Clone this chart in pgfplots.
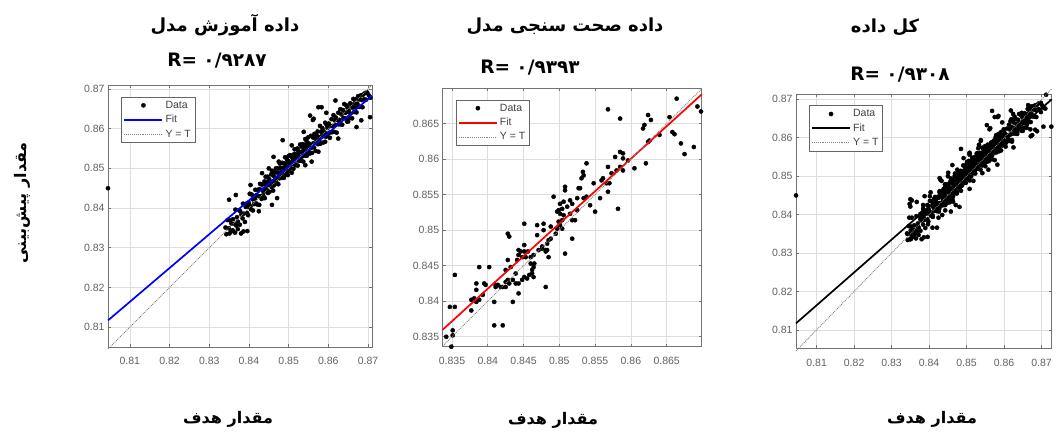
\documentclass[border=0pt]{standalone}
\usepackage{pgfplots}
\pgfplotsset{compat=1.18}
\usepackage{pgfplotstable}
\usepackage{fontspec}
\setmainfont{Liberation Sans}
\newfontfamily\arabicfont[Script=Arabic]{DejaVu Sans}
\TeXXeTstate=1

\pgfplotstableread{
x y
0.8045 0.8450
0.8341 0.8351
0.8343 0.8334
0.8346 0.8370
0.8349 0.8349
0.8350 0.8421
0.8351 0.8336
0.8352 0.8369
0.8355 0.8341
0.8356 0.8361
0.8359 0.8344
0.8360 0.8372
0.8363 0.8360
0.8365 0.8338
0.8366 0.8396
0.8367 0.8433
0.8368 0.8356
0.8370 0.8377
0.8372 0.8366
0.8372 0.8347
0.8375 0.8395
0.8377 0.8358
0.8378 0.8392
0.8380 0.8336
0.8381 0.8384
0.8384 0.8374
0.8385 0.8411
0.8386 0.8341
0.8387 0.8386
0.8390 0.8365
0.8392 0.8403
0.8393 0.8411
0.8395 0.8388
0.8396 0.8342
0.8397 0.8403
0.8398 0.8382
0.8399 0.8414
0.8401 0.8408
0.8402 0.8436
0.8404 0.8405
0.8404 0.8458
0.8405 0.8397
0.8407 0.8434
0.8409 0.8422
0.8410 0.8394
0.8411 0.8429
0.8413 0.8410
0.8415 0.8424
0.8416 0.8446
0.8418 0.8412
0.8419 0.8433
0.8421 0.8409
0.8422 0.8446
0.8424 0.8430
0.8425 0.8392
0.8426 0.8408
0.8427 0.8448
0.8428 0.8461
0.8430 0.8430
0.8432 0.8423
0.8433 0.8459
0.8433 0.8488
0.8435 0.8446
0.8436 0.8432
0.8437 0.8440
0.8439 0.8467
0.8440 0.8425
0.8442 0.8459
0.8442 0.8479
0.8443 0.8448
0.8444 0.8466
0.8446 0.8445
0.8447 0.8479
0.8448 0.8438
0.8449 0.8464
0.8450 0.8458
0.8450 0.8500
0.8451 0.8473
0.8452 0.8441
0.8453 0.8467
0.8455 0.8457
0.8456 0.8485
0.8457 0.8453
0.8458 0.8494
0.8458 0.8408
0.8460 0.8467
0.8461 0.8444
0.8462 0.8481
0.8462 0.8529
0.8463 0.8457
0.8465 0.8490
0.8466 0.8477
0.8467 0.8467
0.8468 0.8500
0.8469 0.8474
0.8471 0.8462
0.8471 0.8425
0.8472 0.8489
0.8473 0.8500
0.8474 0.8460
0.8475 0.8517
0.8476 0.8489
0.8477 0.8475
0.8478 0.8512
0.8479 0.8483
0.8480 0.8501
0.8482 0.8491
0.8483 0.8476
0.8484 0.8514
0.8485 0.8486
0.8485 0.8571
0.8487 0.8502
0.8488 0.8476
0.8489 0.8513
0.8490 0.8496
0.8491 0.8528
0.8492 0.8489
0.8493 0.8511
0.8494 0.8484
0.8495 0.8507
0.8496 0.8522
0.8497 0.8500
0.8498 0.8483
0.8499 0.8519
0.8500 0.8531
0.8500 0.8499
0.8499 0.8507
0.8501 0.8493
0.8502 0.8515
0.8503 0.8533
0.8504 0.8502
0.8505 0.8510
0.8507 0.8532
0.8508 0.8489
0.8508 0.8558
0.8509 0.8527
0.8510 0.8511
0.8511 0.8519
0.8512 0.8499
0.8514 0.8536
0.8515 0.8548
0.8516 0.8511
0.8517 0.8528
0.8518 0.8508
0.8519 0.8535
0.8520 0.8523
0.8522 0.8550
0.8523 0.8507
0.8524 0.8544
0.8525 0.8531
0.8526 0.8519
0.8527 0.8541
0.8529 0.8560
0.8530 0.8529
0.8531 0.8519
0.8532 0.8555
0.8533 0.8542
0.8534 0.8530
0.8535 0.8561
0.8537 0.8517
0.8538 0.8592
0.8538 0.8550
0.8539 0.8541
0.8540 0.8559
0.8541 0.8532
0.8542 0.8574
0.8542 0.8508
0.8543 0.8540
0.8544 0.8551
0.8545 0.8569
0.8546 0.8532
0.8547 0.8562
0.8548 0.8552
0.8549 0.8578
0.8550 0.8544
0.8551 0.8563
0.8553 0.8537
0.8554 0.8633
0.8554 0.8559
0.8556 0.8582
0.8557 0.8552
0.8558 0.8517
0.8559 0.8539
0.8561 0.8578
0.8561 0.8622
0.8562 0.8563
0.8563 0.8625
0.8564 0.8553
0.8565 0.8587
0.8567 0.8575
0.8568 0.8544
0.8570 0.8584
0.8571 0.8568
0.8573 0.8593
0.8574 0.8561
0.8575 0.8654
0.8575 0.8542
0.8576 0.8579
0.8577 0.8570
0.8579 0.8607
0.8580 0.8562
0.8582 0.8592
0.8583 0.8654
0.8584 0.8583
0.8585 0.8601
0.8587 0.8565
0.8588 0.8594
0.8590 0.8581
0.8592 0.8615
0.8592 0.8567
0.8593 0.8589
0.8595 0.8580
0.8595 0.8640
0.8596 0.8609
0.8598 0.8602
0.8599 0.8587
0.8601 0.8613
0.8603 0.8590
0.8604 0.8577
0.8606 0.8607
0.8608 0.8624
0.8609 0.8591
0.8611 0.8607
0.8613 0.8634
0.8614 0.8592
0.8616 0.8621
0.8618 0.8609
0.8618 0.8671
0.8619 0.8628
0.8621 0.8590
0.8623 0.8622
0.8625 0.8640
0.8625 0.8575
0.8626 0.8611
0.8628 0.8622
0.8630 0.8649
0.8631 0.8611
0.8633 0.8636
0.8635 0.8610
0.8637 0.8647
0.8638 0.8627
0.8640 0.8662
0.8642 0.8626
0.8643 0.8640
0.8645 0.8659
0.8647 0.8618
0.8648 0.8654
0.8650 0.8642
0.8650 0.8618
0.8651 0.8646
0.8653 0.8626
0.8655 0.8664
0.8656 0.8638
0.8658 0.8660
0.8660 0.8626
0.8661 0.8653
0.8663 0.8675
0.8665 0.8642
0.8666 0.8664
0.8668 0.8654
0.8670 0.8675
0.8671 0.8641
0.8671 0.8604
0.8673 0.8663
0.8675 0.8682
0.8676 0.8656
0.8678 0.8674
0.8680 0.8655
0.8682 0.8684
0.8683 0.8621
0.8684 0.8672
0.8686 0.8654
0.8688 0.8686
0.8690 0.8674
0.8693 0.8690
0.8695 0.8673
0.8698 0.8691
0.8702 0.8684
0.8705 0.8629
0.8706 0.8678
}\train

\pgfplotstableread{
x y
0.8664 0.8685
0.8568 0.8670
0.8585 0.8657
0.8693 0.8674
0.8698 0.8667
0.8688 0.8617
0.8675 0.8607
0.8670 0.8622
0.8658 0.8638
0.8661 0.8635
0.8654 0.8659
0.8640 0.8634
0.8624 0.8662
0.8628 0.8655
0.8619 0.8648
0.8617 0.8643
0.8621 0.8594
0.8624 0.8624
0.8626 0.8626
0.8589 0.8601
0.8596 0.8598
0.8605 0.8587
0.8585 0.8610
0.8589 0.8608
0.8578 0.8603
0.8585 0.8589
0.8589 0.8584
0.8580 0.8584
0.8573 0.8580
0.8568 0.8589
0.8561 0.8573
0.8570 0.8566
0.8559 0.8570
0.8566 0.8566
0.8568 0.8554
0.8557 0.8545
0.8582 0.8530
0.8538 0.8594
0.8533 0.8582
0.8531 0.8573
0.8534 0.8577
0.8548 0.8566
0.8527 0.8559
0.8529 0.8559
0.8525 0.8545
0.8534 0.8545
0.8538 0.8547
0.8543 0.8535
0.8550 0.8526
0.8515 0.8542
0.8518 0.8537
0.8515 0.8523
0.8522 0.8514
0.8518 0.8514
0.8525 0.8528
0.8508 0.8561
0.8508 0.8556
0.8506 0.8540
0.8511 0.8533
0.8501 0.8537
0.8504 0.8530
0.8499 0.8528
0.8497 0.8526
0.8501 0.8523
0.8506 0.8521
0.8504 0.8514
0.8518 0.8488
0.8508 0.8467
0.8492 0.8547
0.8499 0.8512
0.8501 0.8507
0.8504 0.8502
0.8497 0.8502
0.8495 0.8495
0.8488 0.8505
0.8488 0.8488
0.8485 0.8486
0.8483 0.8481
0.8481 0.8472
0.8478 0.8509
0.8469 0.8507
0.8469 0.8493
0.8478 0.8500
0.8476 0.8477
0.8471 0.8472
0.8483 0.8472
0.8481 0.8470
0.8485 0.8462
0.8481 0.8420
0.8451 0.8509
0.8428 0.8495
0.8430 0.8491
0.8451 0.8479
0.8443 0.8472
0.8446 0.8470
0.8443 0.8465
0.8451 0.8470
0.8456 0.8470
0.8460 0.8462
0.8453 0.8462
0.8448 0.8462
0.8441 0.8458
0.8464 0.8465
0.8460 0.8453
0.8465 0.8453
0.8464 0.8448
0.8462 0.8444
0.8462 0.8439
0.8458 0.8437
0.8451 0.8434
0.8455 0.8432
0.8464 0.8434
0.8448 0.8430
0.8443 0.8425
0.8439 0.8425
0.8435 0.8430
0.8428 0.8430
0.8425 0.8427
0.8430 0.8425
0.8425 0.8420
0.8428 0.8458
0.8432 0.8448
0.8439 0.8439
0.8443 0.8411
0.8435 0.8399
0.8425 0.8444
0.8418 0.8420
0.8414 0.8423
0.8411 0.8420
0.8402 0.8448
0.8388 0.8448
0.8384 0.8425
0.8384 0.8416
0.8395 0.8425
0.8397 0.8423
0.8393 0.8409
0.8388 0.8402
0.8381 0.8404
0.8377 0.8402
0.8377 0.8387
0.8384 0.8399
0.8409 0.8399
0.8411 0.8423
0.8409 0.8366
0.8421 0.8366
0.8354 0.8437
0.8347 0.8392
0.8354 0.8392
0.8351 0.8359
0.8351 0.8352
0.8342 0.8350
0.8349 0.8336
0.8476 0.8474
0.8421 0.8420
}\valid

\pgfplotstableread{
x y
0.8348 0.8428
0.8350 0.8440
0.8362 0.8350
0.8371 0.8368
0.8386 0.8392
0.8397 0.8375
0.8413 0.8441
0.8427 0.8415
0.8437 0.8462
0.8452 0.8445
0.8463 0.8486
0.8474 0.8455
0.8487 0.8509
0.8497 0.8483
0.8507 0.8525
0.8519 0.8508
0.8529 0.8550
0.8541 0.8528
0.8553 0.8572
0.8563 0.8548
0.8577 0.8598
0.8587 0.8573
0.8599 0.8622
0.8611 0.8598
0.8623 0.8645
0.8636 0.8617
0.8647 0.8665
0.8659 0.8645
0.8671 0.8681
0.8683 0.8655
0.8698 0.8690
0.8712 0.8712
0.8726 0.8629
0.8710 0.8676
}\test

\pgfplotsset{
  regr/.style={
    scale only axis, anchor=south west, clip=false, clip marker paths=true,
    axis line style={black!55, line width=0.8pt},
    grid=major, grid style={black!13, line width=0.6pt},
    tick align=inside, major tick length=3pt,
    tick style={black!55, line width=0.6pt},
    ticklabel style={font=\fontsize{10.5}{12}\selectfont, text=black!62},
    xticklabel style={yshift=-7pt},
    /pgf/number format/assume math mode=true,
    scaled ticks=false,
    legend cell align=left,
    legend style={at={(0.05,0.955)}, anchor=north west, draw=black!60,
      font=\fontsize{10.5}{12}\selectfont, text=black!75,
      inner sep=2pt, row sep=1.5pt},
  },
  dots/.style={only marks, mark=*, mark size=2.1pt, black,
    legend image code/.code={\draw[##1] plot coordinates {(19pt,0pt)};}},
  fitleg/.style={legend image code/.code={\draw[##1, line width=2.1pt, #1] (0pt,0pt) -- (38pt,0pt);}},
  idleg/.style={legend image code/.code={\draw[##1, line width=0.9pt, densely dotted, black!50] (0pt,0pt) -- (38pt,0pt);}},
}
\tikzset{
  ttl/.style={font=\arabicfont\bfseries\fontsize{18}{21}\selectfont},
  rr/.style={font=\arabicfont\bfseries\fontsize{18.5}{21}\selectfont},
  lab/.style={font=\arabicfont\bfseries\fontsize{16}{19}\selectfont},
}

\begin{document}
\begin{tikzpicture}
% ---------- panel 1 ----------
\begin{axis}[regr, at={(108pt,92pt)}, width=264pt, height=262pt,
  xmin=0.8045, xmax=0.871, ymin=0.805, ymax=0.871,
  xtick={0.81,0.82,0.83,0.84,0.85,0.86,0.87},
  xticklabels={0.81,0.82,0.83,0.84,0.85,0.86,0.87},
  ytick={0.81,0.82,0.83,0.84,0.85,0.86,0.87},
  yticklabels={0.81,0.82,0.83,0.84,0.85,0.86,0.87}]
\addplot[dots] table {\train};
\addlegendentry{Data}
\addplot[blue, line width=1.7pt, fitleg=blue]
  coordinates {(0.8045,0.8117) (0.871,0.8683)};
\addlegendentry{Fit}
\addplot[black!50, densely dotted, line width=0.9pt, idleg]
  coordinates {(0.8045,0.8045) (0.871,0.871)};
\addlegendentry{Y = T}
\end{axis}
% ---------- panel 2 ----------
\begin{axis}[regr, at={(442.7pt,92.3pt)}, width=259pt, height=258.7pt,
  xmin=0.8337, xmax=0.8699, ymin=0.8336, ymax=0.8700,
  xtick={0.835,0.84,0.845,0.85,0.855,0.86,0.865},
  xticklabels={0.835,0.84,0.845,0.85,0.855,0.86,0.865},
  ytick={0.835,0.84,0.845,0.85,0.855,0.86,0.865},
  yticklabels={0.835,0.84,0.845,0.85,0.855,0.86,0.865}]
\addplot[dots] table {\valid};
\addlegendentry{Data}
\addplot[red, line width=1.7pt, fitleg=red]
  coordinates {(0.8337,0.8360) (0.8699,0.8691)};
\addlegendentry{Fit}
\addplot[black!50, densely dotted, line width=0.9pt, idleg]
  coordinates {(0.8337,0.8337) (0.8699,0.8699)};
\addlegendentry{Y = T}
\end{axis}
% ---------- panel 3 ----------
\begin{axis}[regr, at={(796pt,90.7pt)}, width=255.7pt, height=254.3pt,
  xmin=0.8045, xmax=0.8727, ymin=0.8052, ymax=0.8714,
  xtick={0.81,0.82,0.83,0.84,0.85,0.86,0.87},
  xticklabels={0.81,0.82,0.83,0.84,0.85,0.86,0.87},
  ytick={0.81,0.82,0.83,0.84,0.85,0.86,0.87},
  yticklabels={0.81,0.82,0.83,0.84,0.85,0.86,0.87}]
\addplot[dots] table {\train};
\addlegendentry{Data}
\addplot[dots, forget plot] table {\valid};
\addplot[dots, forget plot] table {\test};
\addplot[black, line width=1.7pt, fitleg=black]
  coordinates {(0.8045,0.8117) (0.8727,0.8700)};
\addlegendentry{Fit}
\addplot[black!50, densely dotted, line width=0.9pt, idleg]
  coordinates {(0.8045,0.8045) (0.8727,0.8727)};
\addlegendentry{Y = T}
\end{axis}
% ---------- texts ----------
\node[ttl] at (225pt,414pt) {\beginR داده آموزش مدل\endR};
\node[rr] at (217pt,378pt) {R= ۰/۹۲۸۷};
\node[ttl] at (565pt,413pt) {\beginR داده صحت سنجی مدل\endR};
\node[rr] at (530pt,371pt) {R= ۰/۹۳۹۳};
\node[ttl] at (885pt,412pt) {\beginR کل داده\endR};
\node[rr] at (900pt,364pt) {R= ۰/۹۳۰۸};
\node[lab, rotate=90] at (22pt,236pt) {\beginR مقدار پیش‌بینی\endR};
\node[lab] at (228pt,20pt) {\beginR مقدار هدف\endR};
\node[lab] at (553pt,19pt) {\beginR مقدار هدف\endR};
\node[lab] at (932pt,20pt) {\beginR مقدار هدف\endR};
\pgfresetboundingbox
\useasboundingbox (0pt,0pt) rectangle (1060pt,439pt);
\end{tikzpicture}
\end{document}
